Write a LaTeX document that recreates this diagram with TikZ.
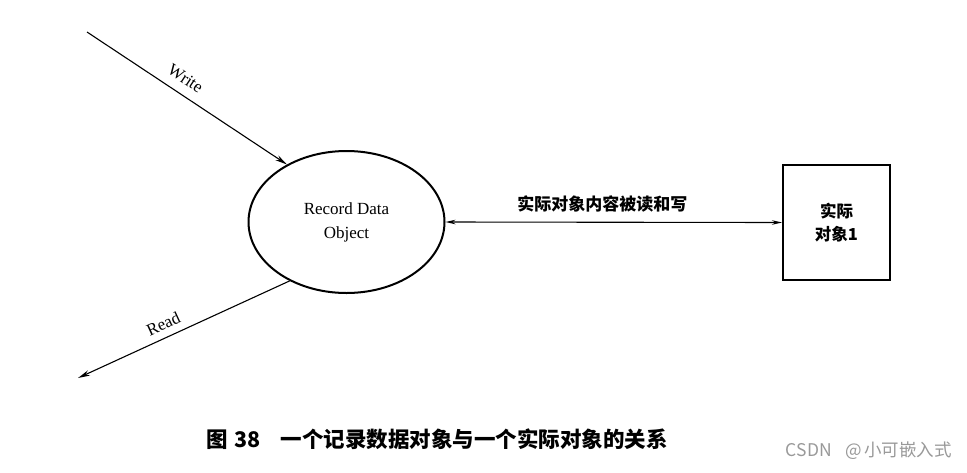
\documentclass[tikz,border=0pt]{standalone}
\usepackage{fontspec}
\setmainfont{Liberation Serif}
\newfontfamily\cjk{Noto Sans CJK SC}
\usetikzlibrary{shapes.geometric,arrows.meta}
\tikzset{
  conn/.style={line width=1.1pt,-{Stealth[length=12pt,width=5.5pt]}},
  lbl/.style={font=\fontsize{17}{19}\selectfont},
  cjklbl/.style={font=\cjk\bfseries\fontsize{17}{20}\selectfont},
}
\begin{document}
\begin{tikzpicture}[x=1pt,y=-1pt]
\useasboundingbox (0,0) rectangle (967,472);
\node[ellipse, draw, line width=2pt, minimum width=196pt, minimum height=142pt, inner sep=0pt,
      align=center, font=\fontsize{17}{24}\selectfont] (obj) at (346.5,222) {Record Data\\Object};
\node[draw, line width=2pt, minimum width=107pt, minimum height=115pt, inner sep=0pt,
      align=center, font=\cjk\bfseries\fontsize{16.5}{23}\selectfont] (real) at (836.5,222.5) {实际\\对象1};
\coordinate (wstart) at (87,32);
\coordinate (rend) at (78,378);
\draw[conn] (wstart) -- node[lbl, sloped, above, pos=0.45, yshift=6pt] {Write} (obj.136);
\draw[line width=1.1pt, {Stealth[length=12pt,width=5.5pt]}-] (rend) -- node[lbl, sloped, above, pos=0.43, yshift=4pt] {Read} (obj.226);
\draw[line width=1.1pt, {Stealth[length=10pt,width=4.5pt]}-{Stealth[length=10pt,width=4.5pt]}] (obj.east) -- node[cjklbl, above, pos=0.466, yshift=6pt] {实际对象内容被读和写} (real.west);
\node[font=\cjk\bfseries\fontsize{21.5}{24}\selectfont, anchor=west, inner sep=0pt] (cap) at (206,439) {图\hspace{7pt}38\hspace{20pt}一个记录数据对象与一个实际对象的关系};
\node[font=\cjk\fontsize{17.5}{19}\selectfont, text=gray!80, anchor=east, inner sep=0pt] (wm) at (952,451) {CSDN\hspace{14pt}@\hspace{2pt}小可嵌入式};
\end{tikzpicture}
\end{document}
